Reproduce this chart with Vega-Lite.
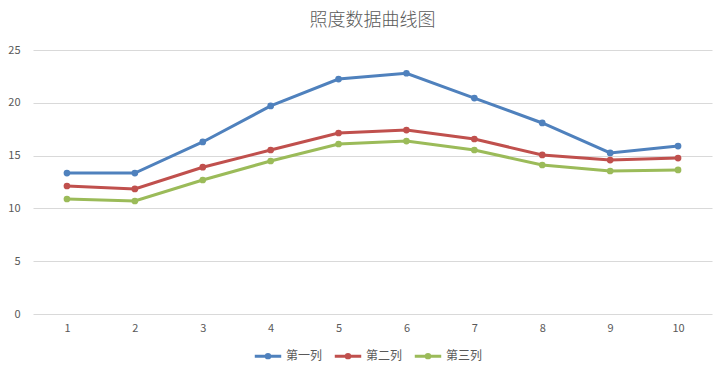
{
  "$schema": "https://vega.github.io/schema/vega-lite/v6.json",
  "autosize": "none",
  "width": 679,
  "height": 264,
  "padding": {"left": 33, "top": 50, "right": 16, "bottom": 64},
  "background": "white",
  "title": {
    "text": "照度数据曲线图",
    "font": "Noto Sans CJK SC",
    "fontSize": 18,
    "fontWeight": 300,
    "color": "#595959",
    "anchor": "middle",
    "offset": 14
  },
  "data": {
    "values": [
      {"x": 1, "series": "第一列", "value": 13.35},
      {"x": 2, "series": "第一列", "value": 13.35},
      {"x": 3, "series": "第一列", "value": 16.29},
      {"x": 4, "series": "第一列", "value": 19.7},
      {"x": 5, "series": "第一列", "value": 22.25},
      {"x": 6, "series": "第一列", "value": 22.8},
      {"x": 7, "series": "第一列", "value": 20.45},
      {"x": 8, "series": "第一列", "value": 18.09},
      {"x": 9, "series": "第一列", "value": 15.25},
      {"x": 10, "series": "第一列", "value": 15.9},
      {"x": 1, "series": "第二列", "value": 12.12},
      {"x": 2, "series": "第二列", "value": 11.84},
      {"x": 3, "series": "第二列", "value": 13.9},
      {"x": 4, "series": "第二列", "value": 15.53},
      {"x": 5, "series": "第二列", "value": 17.14},
      {"x": 6, "series": "第二列", "value": 17.42},
      {"x": 7, "series": "第二列", "value": 16.57},
      {"x": 8, "series": "第二列", "value": 15.06},
      {"x": 9, "series": "第二列", "value": 14.58},
      {"x": 10, "series": "第二列", "value": 14.77},
      {"x": 1, "series": "第三列", "value": 10.89},
      {"x": 2, "series": "第三列", "value": 10.7},
      {"x": 3, "series": "第三列", "value": 12.69},
      {"x": 4, "series": "第三列", "value": 14.49},
      {"x": 5, "series": "第三列", "value": 16.1},
      {"x": 6, "series": "第三列", "value": 16.38},
      {"x": 7, "series": "第三列", "value": 15.53},
      {"x": 8, "series": "第三列", "value": 14.11},
      {"x": 9, "series": "第三列", "value": 13.54},
      {"x": 10, "series": "第三列", "value": 13.64}
    ]
  },
  "mark": {"type": "line", "strokeWidth": 3, "point": {"filled": true, "size": 45}},
  "encoding": {
    "x": {
      "field": "x",
      "type": "ordinal",
      "scale": {"paddingInner": 0, "paddingOuter": 0},
      "axis": {
        "title": null,
        "labelAngle": 0,
        "labelFont": "Noto Sans CJK SC",
        "labelFontSize": 11,
        "labelColor": "#595959",
        "labelPadding": 8,
        "ticks": false,
        "domain": false,
        "grid": false
      }
    },
    "y": {
      "field": "value",
      "type": "quantitative",
      "scale": {"domain": [0, 25], "nice": false},
      "axis": {
        "title": null,
        "values": [0, 5, 10, 15, 20, 25],
        "labelFont": "Noto Sans CJK SC",
        "labelFontSize": 11,
        "labelColor": "#595959",
        "labelPadding": 13,
        "ticks": false,
        "domain": false,
        "grid": true,
        "gridColor": "#D9D9D9",
        "gridWidth": 1
      }
    },
    "color": {
      "field": "series",
      "type": "nominal",
      "sort": ["第一列", "第二列", "第三列"],
      "scale": {"domain": ["第一列", "第二列", "第三列"], "range": ["#4F81BD", "#C0504D", "#9BBB59"]},
      "legend": {
        "title": null,
        "orient": "none",
        "direction": "horizontal",
        "legendX": 220,
        "legendY": 291,
        "labelFont": "Noto Sans CJK SC",
        "labelFontSize": 12,
        "labelColor": "#595959",
        "columnPadding": 5,
        "symbolType": "M-1,0L1,0M0.13,0A0.13,0.13,0,1,1,-0.13,0A0.13,0.13,0,1,1,0.13,0Z",
        "symbolSize": 700,
        "symbolStrokeWidth": 3,
        "labelOffset": 3
      }
    }
  },
  "config": {"view": {"stroke": null}}
}
